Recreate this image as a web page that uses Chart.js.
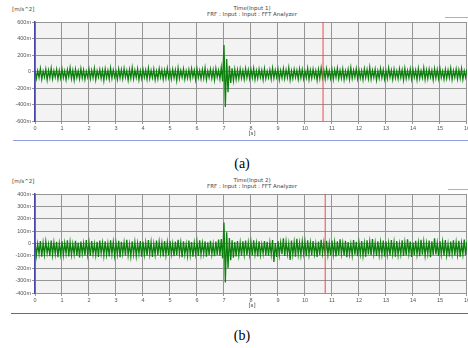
<!DOCTYPE html>
<html>
<head>
<meta charset="utf-8">
<script src="https://cdn.jsdelivr.net/npm/chart.js@4.4.1/dist/chart.umd.min.js"></script>
<style>
  body { margin: 0; background: #fff; overflow: hidden; }
  #wrap { position: relative; width: 468px; height: 348px; overflow: hidden; }
  canvas { position: absolute; left: 0; }
  .t { position: absolute; font-family: "DejaVu Sans", sans-serif; font-size: 5.5px; color: #444; white-space: nowrap; }
  .c { transform: translateX(-50%); text-align: center; }
  .cap { position: absolute; font-family: "Liberation Serif", serif; font-size: 14px; color: #000; transform: translateX(-50%); }
  .sep { position: absolute; height: 1px; }
  .leg { position: absolute; height: 1px; background: #a8b8a8; }
</style>
</head>
<body>
<div id="wrap">
  <div class="t" style="left:12px;top:6px">[m/s^2]</div>
  <div class="t c" style="left:252px;top:5px">Time(Input 1)</div>
  <div class="t c" style="left:252px;top:11px">FRF : Input : Input : FFT Analyzer</div>
  <div class="leg" style="left:445px;top:17px;width:23px"></div>
  <canvas id="chartA" width="471" height="134" style="top:0"></canvas>
  <div class="t c" style="left:252px;top:130px">[s]</div>
  <div class="sep" style="left:13px;top:140px;width:455px;background:#8fa0e0"></div>
  <div class="cap" style="left:242px;top:156px">(a)</div>

  <div class="t" style="left:12px;top:178px">[m/s^2]</div>
  <div class="t c" style="left:252px;top:177px">Time(Input 2)</div>
  <div class="t c" style="left:252px;top:183px">FRF : Input : Input : FFT Analyzer</div>
  <div class="leg" style="left:448px;top:189px;width:20px"></div>
  <canvas id="chartB" width="471" height="172" style="top:134px"></canvas>
  <div class="t c" style="left:252px;top:302px">[s]</div>
  <div class="sep" style="left:11px;top:313px;width:457px;background:#4a68c8"></div>
  <div class="cap" style="left:242px;top:328px">(b)</div>
</div>
<script>
// sample spacing in seconds
const sampleStep = 0.05;
const timeTicks = [0, 16];

// Time(Input 1), m/s^2 in milli units
const input1 = [
  22,-84,10,-72,35,-95,4,-68,28,-101,15,-77,40,-88,8,-70,25,-92,12,-80,
  30,-75,6,-98,20,-66,44,-86,14,-104,26,-73,9,-90,33,-79,18,-95,2,-70,
  27,-88,13,-76,38,-99,7,-69,24,-84,16,-108,31,-74,11,-91,42,-82,19,-67,
  5,-94,29,-78,21,-87,36,-71,10,-103,23,-80,46,-89,15,-72,32,-97,8,-85,
  25,-70,17,-92,39,-83,12,-76,28,-100,4,-88,34,-69,20,-95,14,-81,37,-74,
  9,-90,26,-77,18,-106,41,-84,13,-71,30,-93,6,-79,22,-87,35,-68,16,-98,
  31,-75,11,-89,24,-82,43,-96,7,-73,27,-85,19,-102,36,-70,14,-91,50,-120,
  320,-430,150,-250,70,-140,40,-110,25,-95,18,-88,30,-80,12,-92,35,-74,20,-86,
  24,-76,38,-94,10,-83,27,-71,15,-99,33,-87,5,-74,21,-90,40,-81,17,-68,
  28,-97,12,-79,35,-86,19,-73,45,-101,8,-84,26,-70,14,-93,31,-77,23,-89,
  6,-75,37,-96,16,-82,29,-69,11,-105,24,-86,42,-78,18,-91,33,-72,9,-84,
  27,-94,20,-71,39,-87,13,-80,30,-99,7,-76,25,-92,44,-83,15,-69,34,-88,
  19,-78,10,-97,32,-74,23,-85,48,-90,14,-72,28,-103,6,-81,36,-76,21,-93,
  12,-86,41,-70,17,-95,26,-79,8,-88,33,-73,20,-100,38,-84,11,-77,29,-91,
  24,-71,15,-98,35,-82,9,-75,43,-94,18,-86,27,-69,13,-102,31,-79,22,-87,
  37,-74,6,-92,25,-83,16,-77,40,-97,11,-70,30,-89,19,-81,34,-95,8,-73,
  26
];

// Time(Input 2), m/s^2 in milli units
const input2 = [
  12,-98,-2,-84,20,-107,5,-90,16,-79,-6,-102,24,-93,8,-86,14,-110,0,-88,
  18,-95,4,-81,26,-104,10,-92,-4,-87,21,-99,7,-112,15,-83,2,-96,28,-89,
  9,-101,19,-85,-3,-94,13,-108,23,-80,6,-97,17,-90,-1,-105,25,-86,11,-99,
  3,-88,22,-111,14,-82,8,-96,30,-93,-5,-103,18,-87,10,-100,1,-84,20,-107,
  16,-91,6,-98,27,-85,11,-109,-2,-89,24,-95,13,-81,4,-104,19,-92,8,-97,
  21,-86,0,-102,15,-94,29,-83,7,-110,17,-88,-4,-99,23,-91,12,-106,5,-85,
  14,-100,26,-90,3,-84,18,-107,9,-95,22,-87,-3,-103,16,-92,31,-98,35,-120,
  170,-315,90,-200,45,-135,25,-115,12,-104,20,-95,6,-99,17,-88,24,-95,6,-90,
  11,-97,25,-86,2,-104,17,-91,-6,-83,20,-96,13,-99,8,-88,28,-150,4,-109,
  19,-94,7,-87,42,-101,15,-84,1,-132,23,-90,10,-106,37,-88,5,-95,18,-82,
  13,-103,26,-89,6,-96,20,-85,-2,-108,16,-93,29,-81,9,-100,22,-91,3,-97,
  24,-88,10,-105,17,-92,33,-84,5,-99,21,-110,12,-87,-3,-95,27,-90,14,-102,
  8,-86,19,-97,2,-107,25,-89,15,-94,36,-83,6,-101,18,-92,11,-88,23,-104,
  17,-91,4,-99,28,-85,12,-106,20,-93,-1,-87,26,-100,9,-95,34,-82,16,-109,
  10,-94,22,-88,7,-103,30,-90,14,-97,3,-85,24,-111,18,-92,41,-89,5,-100,
  20,-87,13,-98,27,-93,-4,-105,16,-84,25,-96,9,-90,21,-107,2,-88,32,-95,
  15
];

// red cursor positions [s]
const cursorA = 10.67;
const cursorB = 10.75;

const yRangeA = [-600, 600, 200];
const yRangeB = [-400, 400, 100];

const plotBg = {
  id: "plotBg",
  beforeDraw(chart) {
    const a = chart.chartArea, ctx = chart.ctx;
    ctx.save();
    ctx.fillStyle = "#f3f3f3";
    ctx.fillRect(a.left, a.top, a.right - a.left, a.bottom - a.top);
    ctx.restore();
  }
};

function makeChart(id, values, cursor, yr, padTop) {
  const pts = values.map((v, i) => ({ x: +(i * sampleStep).toFixed(2), y: v }));
  const ctx = document.getElementById(id).getContext("2d");
  return new Chart(ctx, {
    type: "line",
    data: {
      datasets: [
        { data: [{ x: cursor, y: yr[0] }, { x: cursor, y: yr[1] }],
          borderColor: "#f04848", borderWidth: 1, pointRadius: 0, order: 0 },
        { data: pts, borderColor: "#0d7f0d", borderWidth: 1.3,
          pointRadius: 0, tension: 0, order: 1 }
      ]
    },
    options: {
      responsive: false,
      animation: false,
      devicePixelRatio: 1,
      layout: { padding: { top: padTop, left: 0, right: 0, bottom: 0 } },
      plugins: { legend: { display: false }, tooltip: { enabled: false } },
      scales: {
        x: {
          type: "linear", min: timeTicks[0], max: timeTicks[1],
          ticks: { stepSize: 1, font: { size: 5.5 }, color: "#555", padding: 1, maxRotation: 0 },
          grid: { color: "#959595", tickLength: 3 },
          border: { color: "#959595" },
          afterFit(s) { s.height = 13; }
        },
        y: {
          min: yr[0], max: yr[1],
          ticks: { stepSize: yr[2], font: { size: 5.5 }, color: "#555", padding: 1,
                   callback: v => v === 0 ? "0" : v + "m" },
          grid: { color: "#959595", tickLength: 3 },
          border: { color: "#4848a8", width: 1.5 },
          afterFit(s) { s.width = 35; }
        }
      }
    },
    plugins: [plotBg]
  });
}

makeChart("chartA", input1, cursorA, yRangeA, 22);
makeChart("chartB", input2, cursorB, yRangeB, 60);
</script>
</body>
</html>
